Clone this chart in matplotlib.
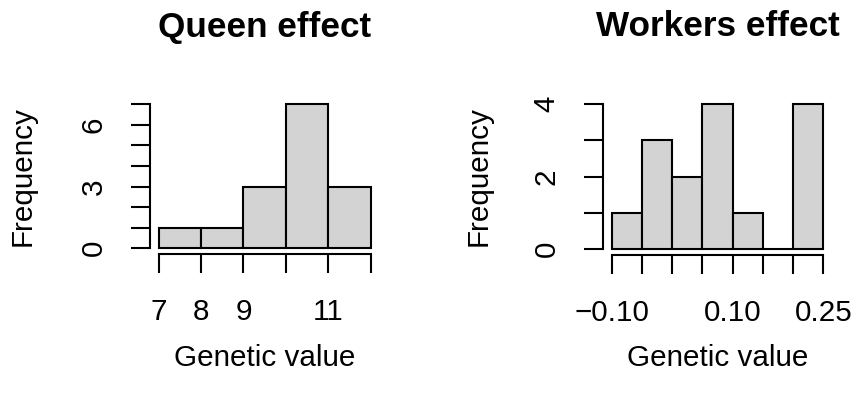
import numpy as np
import matplotlib
matplotlib.use('Agg')
import matplotlib.pyplot as plt

plt.rcParams['font.family'] = ['Liberation Sans', 'DejaVu Sans']

# histogram bins and counts
queen_edges = [7, 8, 9, 10, 11, 12]
queen_counts = [1, 1, 3, 7, 3]
queen_xlabels = ['7', '8', '9', '', '11', '']
queen_yticks = [0, 1, 2, 3, 4, 5, 6, 7]
queen_ylabels = ['0', '', '', '3', '', '', '6', '']

workers_edges = [-0.10, -0.05, 0.00, 0.05, 0.10, 0.15, 0.20, 0.25]
workers_counts = [1, 3, 2, 4, 1, 0, 4]
workers_xlabels = ['\u22120.10', '', '', '', '0.10', '', '', '0.25']
workers_yticks = [0, 1, 2, 3, 4]
workers_ylabels = ['0', '', '2', '', '4']

titles = ['Queen effect', 'Workers effect']

W, H = 854, 396
fig = plt.figure(figsize=(W / 100, H / 100), dpi=100)

LW = 1.5
LABEL_SIZE = 21.3
TITLE_SIZE = 25.3


def r_hist(rect, edges, counts, xlabels, yticks, ylabels, title, ylab_x):
    left, top, right, bottom = rect
    ax = fig.add_axes([left / W, 1 - bottom / H, (right - left) / W, (bottom - top) / H])
    edges = np.asarray(edges, dtype=float)
    ax.bar(edges[:-1], counts, width=np.diff(edges), align='edge',
           color='#D3D3D3', edgecolor='black', linewidth=LW)
    # R-style 4% padding around the data range
    xpad = 0.04 * (edges[-1] - edges[0])
    ypad = 0.04 * yticks[-1]
    ax.set_xlim(edges[0] - xpad, edges[-1] + xpad)
    ax.set_ylim(-ypad, yticks[-1] + ypad)
    for s in ('top', 'right'):
        ax.spines[s].set_visible(False)
    ax.spines['left'].set_bounds(yticks[0], yticks[-1])
    ax.spines['bottom'].set_bounds(edges[0], edges[-1])
    for s in ('left', 'bottom'):
        ax.spines[s].set_linewidth(LW)
    ax.set_xticks(edges)
    ax.set_xticklabels(xlabels)
    ax.set_yticks(yticks)
    ax.set_yticklabels(ylabels, rotation=90, va='center')
    ax.tick_params(axis='both', direction='out', length=13.7, width=LW,
                   labelsize=LABEL_SIZE)
    ax.tick_params(axis='x', pad=18)
    ax.tick_params(axis='y', pad=17)
    cx = (left + right) / 2
    fig.text(cx / W, 1 - 27 / H, title, ha='center', va='center',
             fontsize=TITLE_SIZE, fontweight='bold')
    fig.text(cx / W, 1 - 358 / H, 'Genetic value', ha='center', va='center',
             fontsize=LABEL_SIZE)
    fig.text(ylab_x / W, 1 - (top + bottom) / 2 / H, 'Frequency', ha='center',
             va='center', rotation=90, fontsize=LABEL_SIZE)
    return ax


r_hist((150.2, 98.5, 379.2, 254.0), queen_edges, queen_counts, queen_xlabels,
       queen_yticks, queen_ylabels, titles[0], 23)
r_hist((603.2, 98.2, 831.8, 254.8), workers_edges, workers_counts, workers_xlabels,
       workers_yticks, workers_ylabels, titles[1], 478.5)

fig.savefig('out.png', dpi=100)
